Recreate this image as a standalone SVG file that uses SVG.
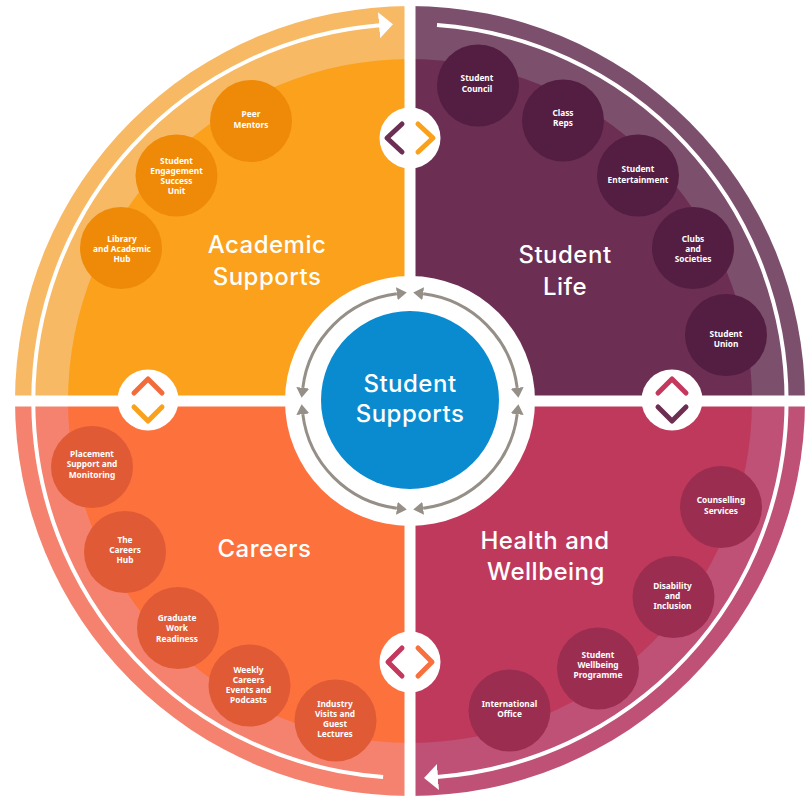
<svg xmlns="http://www.w3.org/2000/svg" width="808" height="801" viewBox="0 0 808 801">
<defs>
<style>
.title{font-family:Inter,"Noto Sans","DejaVu Sans",sans-serif;font-weight:500;font-size:24px;fill:#ffffff;text-anchor:middle;letter-spacing:0.5px}
.node text{font-family:"Noto Sans","Open Sans","DejaVu Sans",sans-serif;font-weight:700;font-size:8.3px;fill:#ffffff;text-anchor:middle}
.chev{fill:none;stroke-width:5;stroke-linecap:round;stroke-linejoin:round}
.garc{fill:none;stroke:#958f88;stroke-width:3}
.warc{fill:none;stroke:#ffffff;stroke-width:4}
.na{fill:#ee8a07}.nl{fill:#531e41}.nh{fill:#9b2e50}.nc{fill:#e05a36}
</style>
<marker id="garrow" viewBox="0 0 10 13" markerUnits="userSpaceOnUse" markerWidth="10" markerHeight="13" refX="0" refY="6.5" orient="auto-start-reverse">
<path d="M0,0 L10,6.5 L0,13 Z" fill="#958f88"/>
</marker>
<marker id="warrow" viewBox="0 0 14 26" markerUnits="userSpaceOnUse" markerWidth="14" markerHeight="26" refX="1" refY="13" orient="auto">
<path d="M0,0 L14,13 L0,26 Z" fill="#ffffff"/>
</marker>
</defs>
<rect x="0" y="0" width="808" height="801" fill="#ffffff"/>

<g id="quadrants">
<path d="M410,401 L410,6 A395,395 0 0 0 15,401 Z" fill="#f8b965"/>
<path d="M410,401 L410,6 A395,395 0 0 1 805,401 Z" fill="#7c4f6d"/>
<path d="M410,401 L805,401 A395,395 0 0 1 410,796 Z" fill="#be5175"/>
<path d="M410,401 L410,796 A395,395 0 0 1 15,401 Z" fill="#f5826f"/>
<path d="M410,401 L410,59 A342,342 0 0 0 68,401 Z" fill="#fba11b"/>
<path d="M410,401 L410,59 A342,342 0 0 1 752,401 Z" fill="#6c2e52"/>
<path d="M410,401 L752,401 A342,342 0 0 1 410,743 Z" fill="#bf395d"/>
<path d="M410,401 L410,743 A342,342 0 0 1 68,401 Z" fill="#fd713d"/>
</g>

<g id="connectors">
<path class="warc" d="M383.1,777.0 A377,377 0 0 1 380.0,25.2" marker-end="url(#warrow)"/>
<path class="warc" d="M437.0,25.0 A377,377 0 0 1 437.0,777.0" marker-end="url(#warrow)"/>
</g>

<g id="gaps">
<rect x="404.5" y="0" width="11" height="801" fill="#ffffff"/>
<rect x="0" y="395.5" width="808" height="11" fill="#ffffff"/>
</g>

<g id="academic-supports">
<text class="title" x="267" y="253">Academic</text>
<text class="title" x="267" y="285">Supports</text>
<g id="peer-mentors" class="node"><circle class="na" cx="251" cy="121" r="41"/><text x="251" y="117">Peer</text><text x="251" y="127.5">Mentors</text></g>
<g id="student-engagement" class="node"><circle class="na" cx="176.5" cy="175.5" r="41"/><text x="176.5" y="164">Student</text><text x="176.5" y="174">Engagement</text><text x="176.5" y="184">Success</text><text x="176.5" y="194">Unit</text></g>
<g id="library-hub" class="node"><circle class="na" cx="121" cy="248" r="41"/><text x="122" y="241.7">Library</text><text x="122" y="251.7">and Academic</text><text x="122" y="261.7">Hub</text></g>
</g>

<g id="student-life">
<text class="title" x="565" y="263">Student</text>
<text class="title" x="565" y="295">Life</text>
<g id="student-council" class="node"><circle class="nl" cx="478" cy="85.5" r="41"/><text x="477" y="81">Student</text><text x="477" y="91.7">Council</text></g>
<g id="class-reps" class="node"><circle class="nl" cx="563" cy="120.5" r="41"/><text x="563" y="115.7">Class</text><text x="563" y="125.7">Reps</text></g>
<g id="student-entertainment" class="node"><circle class="nl" cx="638" cy="175.5" r="41"/><text x="638" y="172">Student</text><text x="638" y="182.7">Entertainment</text></g>
<g id="clubs-societies" class="node"><circle class="nl" cx="693" cy="248" r="41"/><text x="693" y="241.7">Clubs</text><text x="693" y="251.7">and</text><text x="693" y="261.7">Societies</text></g>
<g id="student-union" class="node"><circle class="nl" cx="726" cy="335" r="41"/><text x="726" y="336.7">Student</text><text x="726" y="346.7">Union</text></g>
</g>

<g id="careers">
<text class="title" x="264.5" y="557">Careers</text>
<g id="placement" class="node"><circle class="nc" cx="92" cy="467" r="41"/><text x="92" y="456.7">Placement</text><text x="92" y="467.3">Support and</text><text x="92" y="477.5">Monitoring</text></g>
<g id="careers-hub" class="node"><circle class="nc" cx="125" cy="552" r="41"/><text x="125" y="542.7">The</text><text x="125" y="552.7">Careers</text><text x="125" y="562.7">Hub</text></g>
<g id="graduate-work" class="node"><circle class="nc" cx="178" cy="628" r="41"/><text x="177" y="620.7">Graduate</text><text x="177" y="630.7">Work</text><text x="177" y="641.5">Readiness</text></g>
<g id="weekly-careers" class="node"><circle class="nc" cx="249.5" cy="685.5" r="41"/><text x="248.5" y="672.7">Weekly</text><text x="248.5" y="683.3">Careers</text><text x="248.5" y="693.3">Events and</text><text x="248.5" y="703.3">Podcasts</text></g>
<g id="industry-visits" class="node"><circle class="nc" cx="335.5" cy="720.5" r="41"/><text x="335" y="706.7">Industry</text><text x="335" y="716.7">Visits and</text><text x="335" y="727.3">Guest</text><text x="335" y="737.3">Lectures</text></g>
</g>

<g id="health-wellbeing">
<text class="title" x="545" y="549">Health and</text>
<text class="title" x="546" y="580">Wellbeing</text>
<g id="counselling" class="node"><circle class="nh" cx="721" cy="507" r="41"/><text x="721" y="503.3">Counselling</text><text x="721" y="514.3">Services</text></g>
<g id="disability" class="node"><circle class="nh" cx="673.5" cy="597" r="41"/><text x="672.5" y="589.3">Disability</text><text x="672.5" y="599.3">and</text><text x="672.5" y="609.3">Inclusion</text></g>
<g id="wellbeing-programme" class="node"><circle class="nh" cx="598" cy="668.5" r="41"/><text x="598" y="657.7">Student</text><text x="598" y="668.3">Wellbeing</text><text x="598" y="678.3">Programme</text></g>
<g id="international-office" class="node"><circle class="nh" cx="509.5" cy="710.5" r="41"/><text x="509.5" y="706.7">International</text><text x="509.5" y="716.7">Office</text></g>
</g>

<g id="student-supports">
<circle cx="410" cy="401" r="125" fill="#ffffff"/>
<path class="garc" d="M396.84,293.81 A108,108 0 0 0 302.81,387.84" marker-start="url(#garrow)" marker-end="url(#garrow)"/>
<path class="garc" d="M423.16,293.81 A108,108 0 0 1 517.19,387.84" marker-start="url(#garrow)" marker-end="url(#garrow)"/>
<path class="garc" d="M517.19,414.16 A108,108 0 0 1 423.16,508.19" marker-start="url(#garrow)" marker-end="url(#garrow)"/>
<path class="garc" d="M396.84,508.19 A108,108 0 0 1 302.81,414.16" marker-start="url(#garrow)" marker-end="url(#garrow)"/>
<circle cx="410" cy="400" r="89" fill="#0a8bd0"/>
<text class="title" x="410" y="392">Student</text>
<text class="title" x="410" y="422">Supports</text>
</g>

<g id="marker-top">
<circle cx="410" cy="138" r="30.5" fill="#ffffff"/>
<path class="chev" stroke="#6c2e52" d="M402,124 L387,138 L402,152"/>
<path class="chev" stroke="#f9a11b" d="M418,124 L433,138 L418,152"/>
</g>
<g id="marker-left">
<circle cx="148" cy="400" r="30.5" fill="#ffffff"/>
<path class="chev" stroke="#f26b3b" d="M134,393 L148,379 L162,393"/>
<path class="chev" stroke="#f9a11b" d="M134,407 L148,421 L162,407"/>
</g>
<g id="marker-right">
<circle cx="672" cy="400" r="30.5" fill="#ffffff"/>
<path class="chev" stroke="#c4385e" d="M658,393 L672,379 L686,393"/>
<path class="chev" stroke="#6c2e52" d="M658,407 L672,421 L686,407"/>
</g>
<g id="marker-bottom">
<circle cx="410" cy="662" r="30.5" fill="#ffffff"/>
<path class="chev" stroke="#c4385e" d="M402,648 L388,662 L402,676"/>
<path class="chev" stroke="#f7703d" d="M418,648 L432,662 L418,676"/>
</g>
</svg>
